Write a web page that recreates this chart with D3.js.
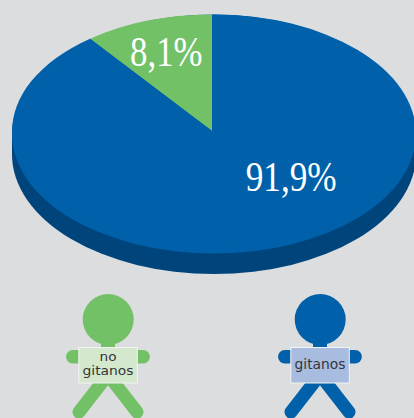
<!DOCTYPE html>
<html><head><meta charset="utf-8">
<script src="https://cdn.jsdelivr.net/npm/d3@7/dist/d3.min.js"></script>
<style>html,body{margin:0;padding:0;background:#dcddde;overflow:hidden}svg{display:block}</style>
</head><body><svg id="c" width="414" height="418"></svg>
<script>
// Printed labels, and the wedge shares as actually drawn in the picture (measured from its slice edge).
const categories = ["no gitanos", "gitanos"];
const labels = ["8,1%", "91,9%"];
const drawnShares = [10.45, 89.55];
const colors = ["#73c167", "#0060a9"];
const cardColors = ["#d3e8cc", "#a8bcdf"];
const cardLines = [["no", "gitanos"], ["gitanos"]];

const W = 414, H = 418;
const svg = d3.select("#c");
svg.append("rect").attr("width", W).attr("height", H).attr("fill", "#dcddde");

const cx = 214, cy = 134, rx = 202, ry = 119.5, depth = 20.5;
const disc = d3.arc()({innerRadius: 0, outerRadius: 1, startAngle: 0, endAngle: 2 * Math.PI});
const start = -2 * Math.PI * drawnShares[0] / 100;
const pie = d3.pie().sort(null).value(d => d).startAngle(start).endAngle(start + 2 * Math.PI);
const arc = d3.arc().innerRadius(0).outerRadius(1);

svg.append("path").attr("d", disc).attr("transform", `translate(${cx},${cy + depth}) scale(${rx},${ry})`).attr("fill", "#00447c");
svg.append("rect").attr("x", cx - rx).attr("y", cy).attr("width", 2 * rx).attr("height", depth).attr("fill", "#00447c");
svg.append("path").attr("d", disc).attr("transform", `translate(${cx},${cy}) scale(${rx},${ry})`).attr("fill", colors[1]);

svg.append("g").attr("transform", "translate(212,131) scale(200,116.5)")
  .selectAll("path").data(pie(drawnShares)).join("path").attr("d", arc).attr("fill", (d, i) => colors[i]);

const labelPos = [{x: 166.3, y: 65.7, w: 72.5}, {x: 291.2, y: 191, w: 91}];
svg.selectAll("text.v").data(labels).join("text").attr("class", "v")
  .attr("x", (d, i) => labelPos[i].x).attr("y", (d, i) => labelPos[i].y)
  .attr("text-anchor", "middle").attr("fill", "#fff")
  .attr("font-family", "Liberation Serif").attr("font-size", 43)
  .attr("textLength", (d, i) => labelPos[i].w).attr("lengthAdjust", "spacingAndGlyphs").text(d => d);

const figX = d3.scalePoint().domain(categories).range([108, 320]);
const fig = svg.selectAll("g.f").data(categories).join("g").attr("class", "f")
  .attr("transform", d => `translate(${figX(d)},0)`);
fig.each(function (d, i) {
  const g = d3.select(this), c = colors[i];
  const line = (x1, y1, x2, y2, w) => g.append("line").attr("x1", x1).attr("y1", y1).attr("x2", x2).attr("y2", y2)
    .attr("stroke", c).attr("stroke-width", w).attr("stroke-linecap", "round");
  g.append("circle").attr("cx", 0.2).attr("cy", 319.5).attr("r", 25.5).attr("fill", c);
  g.append("rect").attr("x", -7).attr("y", 340).attr("width", 14).attr("height", 12).attr("fill", c);
  line(-35.3, 356.7, 35.2, 356.7, 13.4);
  line(-1, 376, -29, 412, 13);
  line(1, 376, 29, 412, 13);
  g.append("rect").attr("x", -29.2).attr("y", 347.5).attr("width", 58.5).attr("height", 35.5)
    .attr("fill", cardColors[i]).attr("stroke", "#f2f4f2").attr("stroke-width", 1);
  const lines = cardLines[i];
  lines.forEach((s, j) => {
    g.append("text").attr("text-anchor", "middle").attr("fill", "#33353a")
      .attr("font-family", "DejaVu Sans").attr("font-size", lines.length === 1 ? 13.8 : 12.5)
      .attr("x", 0).attr("y", lines.length === 1 ? 369 : 360.8 + j * 14.6)
      .attr("textLength", lines.length === 2 && j === 0 ? 17 : 51).attr("lengthAdjust", "spacingAndGlyphs").text(s);
  });
});
</script></body></html>
